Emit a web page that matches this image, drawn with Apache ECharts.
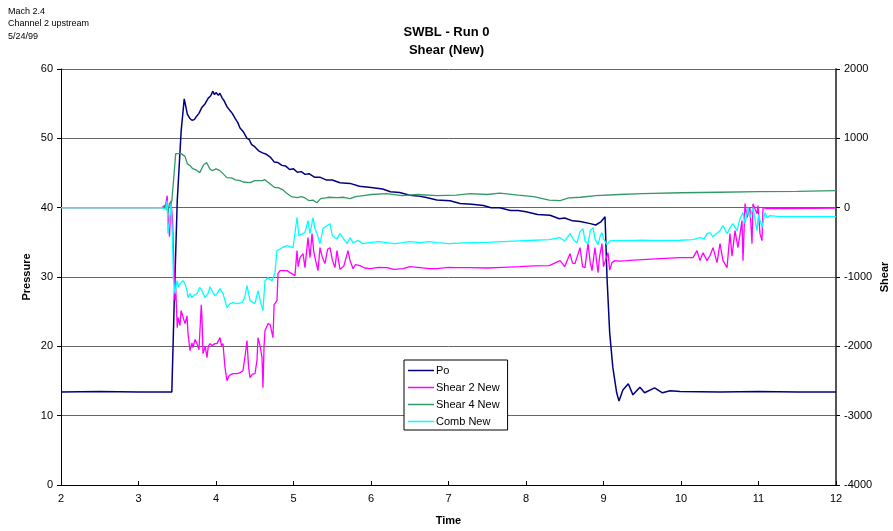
<!DOCTYPE html>
<html><head><meta charset="utf-8">
<script src="https://cdn.jsdelivr.net/npm/echarts@6/dist/echarts.min.js"></script>
<style>html,body{margin:0;padding:0;background:#fff;overflow:hidden}#c{width:893px;height:531px}</style>
</head><body><div id="c"></div>
<script>
var xTicks = [2,3,4,5,6,7,8,9,10,11,12];
var leftTicks = [0,10,20,30,40,50,60];
var rightTicks = [-4000,-3000,-2000,-1000,0,1000,2000];
var notes = ['Mach 2.4','Channel 2 upstream','5/24/99'];
var seriesNames = ['Po','Shear 2 New','Shear 4 New','Comb New'];

var poData = [[2,13.4],[2.5,13.5],[3,13.4],[3.43,13.4],[3.46,26.0],[3.5,41],[3.55,51],[3.59,55.7],[3.61,54.6],[3.63,53.5],[3.66,52.9],[3.69,52.6],[3.72,52.7],[3.75,53.2],[3.78,53.6],[3.82,54.5],[3.86,55.0],[3.9,55.8],[3.93,56.1],[3.96,56.8],[3.98,56.3],[4.0,56.6],[4.03,56.2],[4.05,56.5],[4.08,55.8],[4.1,55.5],[4.14,54.6],[4.18,54.0],[4.21,53.6],[4.25,52.8],[4.28,52.3],[4.31,51.5],[4.35,51.0],[4.4,50.0],[4.43,49.8],[4.46,49.1],[4.5,48.8],[4.55,48.2],[4.6,47.9],[4.65,47.7],[4.7,47.3],[4.75,46.6],[4.8,46.5],[4.85,46.1],[4.9,46.0],[4.95,45.5],[5.0,45.6],[5.05,45.1],[5.1,45.2],[5.15,44.8],[5.2,44.9],[5.27,44.4],[5.34,44.4],[5.42,44.0],[5.5,44.0],[5.6,43.6],[5.73,43.5],[5.85,43.1],[6.0,42.9],[6.15,42.7],[6.25,42.3],[6.37,42.2],[6.5,41.8],[6.6,41.7],[6.7,41.5],[6.85,41.1],[7.02,41.0],[7.15,40.6],[7.3,40.5],[7.45,40.3],[7.55,40.0],[7.66,40.0],[7.8,39.6],[7.9,39.6],[8.0,39.4],[8.15,39.0],[8.31,38.9],[8.43,38.4],[8.5,38.5],[8.6,38.1],[8.7,38.0],[8.83,37.7],[8.9,37.5],[8.97,38.0],[9.02,38.7],[9.045,30],[9.08,21.9],[9.12,17],[9.17,13.3],[9.2,12.1],[9.25,13.7],[9.32,14.6],[9.38,13.0],[9.47,14.1],[9.53,13.3],[9.66,14.0],[9.76,13.3],[9.86,13.6],[9.99,13.5],[10.5,13.4],[11,13.5],[11.5,13.4],[12,13.4]];

var shear2Data = [[2,0],[3.3,0],[3.35,40],[3.37,173],[3.38,-100],[3.4,-420],[3.42,100],[3.44,-200],[3.47,-1341],[3.48,-1150],[3.5,-1731],[3.51,-1586],[3.535,-1700],[3.55,-1485],[3.574,-1485],[3.6,-1673],[3.626,-1560],[3.639,-1817],[3.665,-2062],[3.69,-1950],[3.703,-2019],[3.73,-1900],[3.755,-1961],[3.78,-2050],[3.81,-1400],[3.819,-1586],[3.832,-2105],[3.86,-2000],[3.884,-2163],[3.9,-2000],[3.923,-1961],[3.95,-1990],[3.987,-1961],[4.013,-1961],[4.052,-1875],[4.07,-1990],[4.09,-1961],[4.116,-2307],[4.142,-2495],[4.17,-2420],[4.22,-2394],[4.27,-2394],[4.31,-2380],[4.348,-2350],[4.38,-2100],[4.4,-1918],[4.42,-2300],[4.439,-2451],[4.47,-2400],[4.503,-2394],[4.529,-2200],[4.542,-1875],[4.57,-2000],[4.594,-2163],[4.606,-2596],[4.62,-2000],[4.632,-1774],[4.671,-1673],[4.7,-1690],[4.723,-1673],[4.735,-1875],[4.75,-1400],[4.787,-1341],[4.8,-952],[4.826,-908],[4.865,-908],[4.916,-908],[4.955,-937],[5.019,-980],[5.045,-620],[5.06,-850],[5.084,-721],[5.123,-663],[5.148,-865],[5.174,-580],[5.187,-433],[5.213,-720],[5.239,-375],[5.26,-620],[5.277,-721],[5.316,-908],[5.342,-577],[5.368,-700],[5.406,-807],[5.44,-600],[5.471,-577],[5.5,-750],[5.535,-865],[5.561,-620],[5.6,-890],[5.65,-840],[5.703,-620],[5.729,-760],[5.768,-880],[5.8,-820],[5.858,-836],[5.92,-870],[5.987,-880],[6.1,-860],[6.206,-865],[6.3,-890],[6.413,-880],[6.5,-850],[6.632,-865],[6.75,-880],[6.852,-880],[7.0,-860],[7.1,-865],[7.277,-865],[7.5,-870],[7.7,-860],[7.923,-850],[8.1,-840],[8.3,-836],[8.44,-764],[8.5,-850],[8.568,-663],[8.6,-800],[8.632,-807],[8.697,-577],[8.73,-850],[8.761,-865],[8.8,-519],[8.83,-800],[8.852,-908],[8.89,-577],[8.929,-937],[8.95,-700],[8.981,-519],[9.0,-850],[9.019,-865],[9.058,-649],[9.08,-900],[9.11,-793],[9.148,-764],[9.2,-770],[9.3,-764],[9.5,-750],[9.73,-735],[9.987,-721],[10.155,-721],[10.206,-620],[10.245,-764],[10.284,-650],[10.335,-764],[10.374,-690],[10.413,-577],[10.465,-793],[10.503,-519],[10.542,-764],[10.594,-865],[10.632,-375],[10.658,-700],[10.697,-332],[10.735,-577],[10.787,-187],[10.8,-764],[10.826,58],[10.852,-144],[10.89,0],[10.916,-519],[10.929,58],[10.98,-87],[10.994,29],[11.019,-375],[11.045,-476],[11.058,0],[11.11,-14],[11.3,-14],[11.665,-10],[12,-5]];

var shear4Data = [[2,0],[3.3,0],[3.36,20],[3.38,-80],[3.4,60],[3.43,100],[3.46,500],[3.48,779],[3.55,779],[3.6,740],[3.63,634],[3.67,600],[3.7,562],[3.75,540],[3.79,505],[3.84,620],[3.88,649],[3.92,560],[3.95,534],[4.0,560],[4.05,534],[4.1,480],[4.14,433],[4.2,430],[4.25,400],[4.31,389],[4.35,370],[4.44,361],[4.5,390],[4.53,389],[4.6,390],[4.63,404],[4.7,340],[4.76,288],[4.8,290],[4.86,260],[4.9,220],[4.97,160],[5.05,144],[5.1,160],[5.15,140],[5.2,100],[5.25,110],[5.3,72],[5.35,130],[5.45,150],[5.56,144],[5.65,150],[5.73,130],[5.8,160],[5.9,175],[6.0,190],[6.2,202],[6.4,173],[6.6,190],[6.85,173],[7.1,180],[7.28,202],[7.5,190],[7.66,210],[7.9,180],[8.1,160],[8.3,110],[8.44,101],[8.55,140],[8.7,150],[8.9,173],[9.2,190],[9.5,202],[10,215],[10.5,222],[11,230],[11.5,235],[12,245]];

var combData = [[2,0],[3.3,0],[3.35,-20],[3.37,100],[3.38,-375],[3.4,-200],[3.42,60],[3.44,-500],[3.45,-1009],[3.471,-1241],[3.497,-1053],[3.52,-1150],[3.535,-1096],[3.574,-1053],[3.6,-1100],[3.626,-1197],[3.639,-1298],[3.665,-1240],[3.69,-1298],[3.72,-1260],[3.755,-1240],[3.79,-1150],[3.819,-1197],[3.858,-1298],[3.897,-1240],[3.923,-1140],[3.948,-1197],[3.987,-1269],[4.013,-1240],[4.052,-1168],[4.09,-1240],[4.142,-1442],[4.181,-1384],[4.22,-1370],[4.271,-1384],[4.335,-1370],[4.37,-1300],[4.4,-1125],[4.439,-1341],[4.503,-1384],[4.542,-1197],[4.58,-1384],[4.606,-1485],[4.632,-1053],[4.671,-1009],[4.723,-1053],[4.761,-937],[4.787,-620],[4.82,-600],[4.852,-577],[4.916,-548],[4.994,-577],[5.045,-144],[5.07,-400],[5.084,-375],[5.123,-375],[5.15,-350],[5.187,-187],[5.213,-375],[5.252,-144],[5.277,-300],[5.303,-375],[5.342,-519],[5.381,-300],[5.43,-260],[5.471,-231],[5.5,-400],[5.535,-433],[5.561,-450],[5.6,-375],[5.69,-519],[5.729,-433],[5.768,-505],[5.832,-476],[5.9,-519],[5.987,-505],[6.1,-490],[6.206,-505],[6.3,-520],[6.413,-505],[6.5,-490],[6.632,-505],[6.75,-490],[6.852,-505],[7.0,-519],[7.277,-505],[7.5,-500],[7.7,-490],[7.9,-480],[8.1,-470],[8.3,-460],[8.44,-433],[8.5,-480],[8.568,-375],[8.62,-470],[8.658,-505],[8.697,-350],[8.735,-303],[8.761,-480],[8.8,-519],[8.83,-330],[8.865,-288],[8.89,-450],[8.929,-534],[8.96,-400],[8.981,-361],[9.0,-450],[9.045,-534],[9.08,-480],[9.123,-476],[9.2,-476],[9.303,-476],[9.5,-470],[9.729,-476],[9.987,-470],[10.155,-461],[10.245,-433],[10.3,-450],[10.335,-375],[10.374,-361],[10.413,-420],[10.45,-380],[10.503,-332],[10.542,-260],[10.594,-375],[10.632,-288],[10.671,-231],[10.723,-332],[10.761,-159],[10.8,-72],[10.826,-231],[10.865,0],[10.89,-144],[10.929,0],[10.98,-332],[11.0,-100],[11.019,-87],[11.045,-288],[11.084,-72],[11.11,-144],[11.148,-115],[11.277,-130],[11.665,-130],[12,-130]];

var FONT = '"Liberation Sans", Arial, sans-serif';
var chart = echarts.init(document.getElementById('c'), null, {renderer:'canvas', width:893, height:531});
function lineSeries(name, data, color, yIdx, w) {
  return {name:name, type:'line', data:data, yAxisIndex:yIdx, showSymbol:false, symbol:'none',
    lineStyle:{color:color, width:w}, itemStyle:{color:color}, animation:false, z:2};
}
chart.setOption({
  animation:false,
  textStyle:{fontFamily:FONT},
  title:{text:'SWBL - Run 0\nShear (New)', left:'center', top:18,
    textStyle:{fontFamily:FONT, fontSize:13, fontWeight:'bold', color:'#000', lineHeight:18}},
  graphic:[{type:'text', left:8, top:5, style:{text:notes.join('\n'), font:'9px '+FONT, lineHeight:12.5, fill:'#000'}}],
  legend:{orient:'vertical', left:404, top:360, data:seriesNames, icon:'rect', itemWidth:26, itemHeight:1.5,
    itemGap:6, padding:[5,8,3,4], borderColor:'#000', borderWidth:1, backgroundColor:'#fff',
    textStyle:{fontFamily:FONT, fontSize:11, color:'#000', padding:[0,0,0,-3]}},
  grid:{left:61, right:57, top:69, bottom:46, containLabel:false, outerBoundsMode:'none'},
  xAxis:{type:'value', min:2, max:12, interval:1, name:'Time', nameLocation:'middle', nameGap:30, nameMoveOverlap:false,
    nameTextStyle:{fontFamily:FONT, fontSize:11, fontWeight:'bold', color:'#000'},
    axisLine:{onZero:false, lineStyle:{color:'#000', width:1}},
    axisTick:{inside:true, length:4, lineStyle:{color:'#000'}},
    axisLabel:{fontFamily:FONT, fontSize:11, color:'#000', margin:8, formatter:function(v){return xTicks.indexOf(v)>=0?String(v):'';}},
    splitLine:{show:false}},
  yAxis:[
    {type:'value', min:0, max:60, interval:10, position:'left', name:'Pressure', nameLocation:'middle', nameGap:29, nameRotate:90, nameMoveOverlap:false,
      nameTextStyle:{fontFamily:FONT, fontSize:11, fontWeight:'bold', color:'#000'},
      axisLine:{show:true, lineStyle:{color:'#000', width:1}},
      axisTick:{show:true, length:4, lineStyle:{color:'#000'}},
      axisLabel:{fontFamily:FONT, fontSize:11, color:'#000', margin:8, formatter:function(v){return leftTicks.indexOf(v)>=0?String(v):'';}},
      splitLine:{show:true, lineStyle:{color:'#666', width:1}}},
    {type:'value', min:-4000, max:2000, interval:1000, position:'right', name:'Shear', nameLocation:'middle', nameGap:43, nameRotate:90, nameMoveOverlap:false,
      nameTextStyle:{fontFamily:FONT, fontSize:11, fontWeight:'bold', color:'#000'},
      axisLine:{show:true, lineStyle:{color:'#555', width:2}},
      axisTick:{show:true, length:4, lineStyle:{color:'#000'}},
      axisLabel:{fontFamily:FONT, fontSize:11, color:'#000', margin:8, formatter:function(v){return rightTicks.indexOf(v)>=0?String(v):'';}},
      splitLine:{show:false}}
  ],
  series:[
    lineSeries(seriesNames[0], poData, '#000080', 0, 1.5),
    lineSeries(seriesNames[1], shear2Data, '#FF00FF', 1, 1.3),
    lineSeries(seriesNames[2], shear4Data, '#339966', 1, 1.3),
    lineSeries(seriesNames[3], combData, '#00FFFF', 1, 1.3)
  ]
});
</script></body></html>
